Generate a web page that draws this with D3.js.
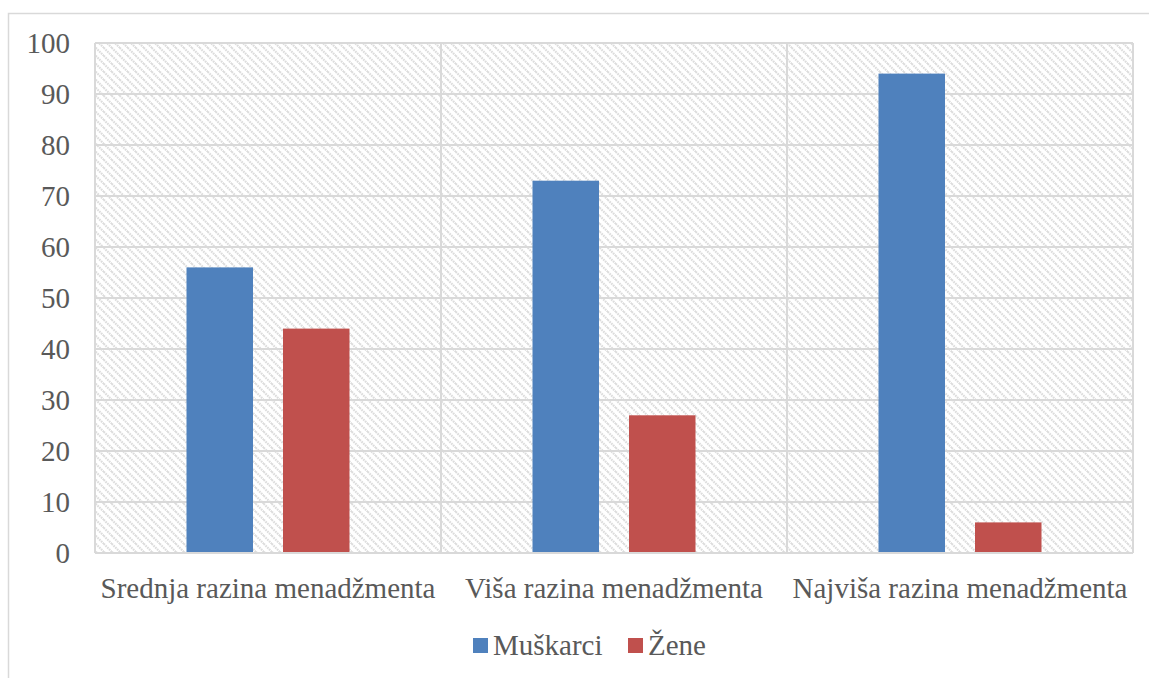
<!DOCTYPE html>
<html><head><meta charset="utf-8">
<script src="https://cdn.jsdelivr.net/npm/d3@7"></script>
<style>body{margin:0;background:#fff;}</style>
</head><body>
<svg id="c" width="1149" height="678"></svg>
<script>
const categories = ["Srednja razina menadžmenta", "Viša razina menadžmenta", "Najviša razina menadžmenta"];
const seriesNames = ["Muškarci", "Žene"];
const muskarci = [56, 73, 94];
const zene = [44, 27, 6];
const yTicks = [0,10,20,30,40,50,60,70,80,90,100];
const colors = ["#4f81bd", "#c0504d"];
const FONT = '"Liberation Serif", "Times New Roman", serif';

const svg = d3.select("#c");
const defs = svg.append("defs");
const pat = defs.append("pattern").attr("id","hatch").attr("patternUnits","userSpaceOnUse")
  .attr("width",8).attr("height",8);
pat.append("rect").attr("width",8).attr("height",8).attr("fill","#fff");
pat.append("path").attr("d","M-2,-2 L10,10 M-2,6 L2,10 M6,-2 L10,2").attr("stroke","#dcdcdc").attr("stroke-width",2.2).attr("stroke-dasharray","1.6,0.9");

svg.append("rect").attr("x",8.5).attr("y",13.5).attr("width",1160).attr("height",700)
  .attr("fill","none").attr("stroke","#d9d9d9").attr("stroke-width",1.5);

const L=95, R=1133, T=43, B=553;
const x0 = d3.scaleBand().domain(categories).range([L,R]).padding(0);
const x1 = d3.scaleBand().domain(seriesNames).range([91.5, x0.bandwidth()-91.5]).paddingInner(0.311).paddingOuter(0);
const y = d3.scaleLinear().domain([0,100]).range([B,T]);

svg.append("rect").attr("x",L).attr("y",T).attr("width",R-L).attr("height",B-T).attr("fill","url(#hatch)");

svg.append("g").selectAll("line").data(yTicks).join("line")
  .attr("x1",L).attr("x2",R).attr("y1",d=>y(d)).attr("y2",d=>y(d))
  .attr("stroke","#d9d9d9").attr("stroke-width",2);
const bounds = categories.map(c=>x0(c)).concat([R]);
svg.append("g").selectAll("line").data(bounds).join("line")
  .attr("x1",d=>d).attr("x2",d=>d).attr("y1",T).attr("y2",B)
  .attr("stroke","#d9d9d9").attr("stroke-width",2);

const data = categories.map((c,i)=>({cat:c, vals:[muskarci[i], zene[i]]}));
const g = svg.append("g").selectAll("g").data(data).join("g").attr("transform",d=>`translate(${x0(d.cat)},0)`);
g.selectAll("rect").data(d=>d.vals.map((v,j)=>({s:seriesNames[j], v, j}))).join("rect")
  .attr("x",d=>x1(d.s)).attr("width",x1.bandwidth())
  .attr("y",d=>y(d.v)).attr("height",d=>B-y(d.v)).attr("fill",d=>colors[d.j]);

svg.append("line").attr("x1",L).attr("x2",R).attr("y1",B).attr("y2",B).attr("stroke","#d9d9d9").attr("stroke-width",2);

function styleText(sel){
  sel.style("font-family",FONT).style("font-size","29px").style("fill","#595959");
}

const yAxis = d3.axisLeft(y).tickValues(yTicks).tickSize(0).tickPadding(0);
const ya = svg.append("g").attr("transform",`translate(70,0)`).call(yAxis);
ya.select(".domain").remove();
ya.selectAll("text").call(styleText).attr("dy","0.34em");

const xAxis = d3.axisBottom(x0).tickSize(0).tickPadding(0);
const xa = svg.append("g").attr("transform",`translate(0,${B})`).call(xAxis);
xa.select(".domain").remove();
xa.selectAll("text").call(styleText).attr("y",0).attr("dy","45px");

const leg = svg.append("g");
const legX = [473, 628];
seriesNames.forEach((s,i)=>{
  leg.append("rect").attr("x",legX[i]).attr("y",638).attr("width",15).attr("height",15).attr("fill",colors[i]);
  leg.append("text").attr("x",legX[i]+20).attr("y",655).text(s).call(styleText);
});
</script>
</body></html>
